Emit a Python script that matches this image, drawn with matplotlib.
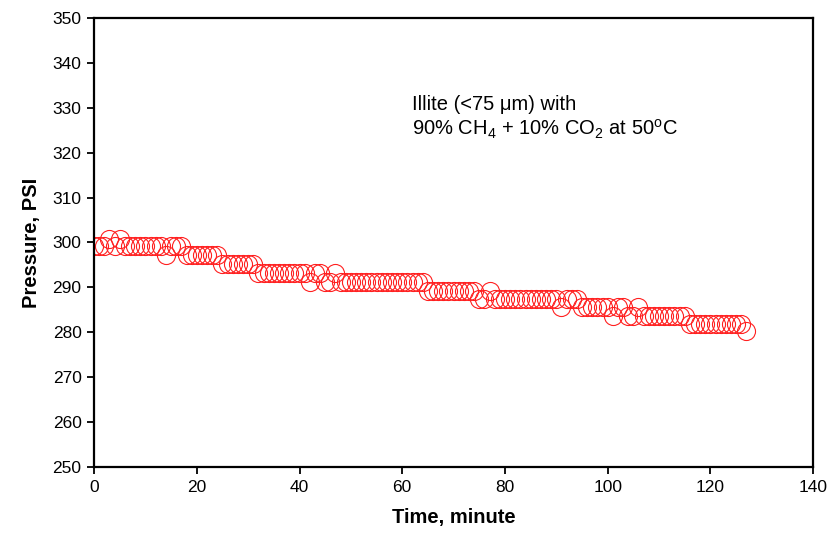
import matplotlib
matplotlib.use('Agg')
import matplotlib.pyplot as plt

plt.rcParams['font.family'] = ['Liberation Sans', 'DejaVu Sans']
plt.rcParams['mathtext.fontset'] = 'custom'
plt.rcParams['mathtext.rm'] = 'Liberation Sans'
plt.rcParams['mathtext.it'] = 'Liberation Sans'

# Time (minute), one reading per minute
waktu = [0, 1, 2, 3, 4, 5, 6, 7, 8, 9, 10, 11, 12, 13, 14, 15, 16, 17, 18, 19,
         20, 21, 22, 23, 24, 25, 26, 27, 28, 29, 30, 31, 32, 33, 34, 35, 36, 37, 38, 39,
         40, 41, 42, 43, 44, 45, 46, 47, 48, 49, 50, 51, 52, 53, 54, 55, 56, 57, 58, 59,
         60, 61, 62, 63, 64, 65, 66, 67, 68, 69, 70, 71, 72, 73, 74, 75, 76, 77, 78, 79,
         80, 81, 82, 83, 84, 85, 86, 87, 88, 89, 90, 91, 92, 93, 94, 95, 96, 97, 98, 99,
         100, 101, 102, 103, 104, 105, 106, 107, 108, 109, 110, 111, 112, 113, 114, 115, 116, 117, 118, 119,
         120, 121, 122, 123, 124, 125, 126, 127]

# Pressure (PSI)
tekanan = [299.2, 299.2, 299.2, 300.8, 299.2, 300.8, 299.2, 299.2, 299.2, 299.2,
           299.2, 299.2, 299.2, 299.2, 297.2, 299.2, 299.2, 299.2, 297.2, 297.2,
           297.2, 297.2, 297.2, 297.2, 297.2, 295.3, 295.3, 295.3, 295.3, 295.3,
           295.3, 295.3, 293.2, 293.2, 293.2, 293.2, 293.2, 293.2, 293.2, 293.2,
           293.2, 293.2, 291.3, 293.2, 293.2, 291.3, 291.3, 293.2, 291.3, 291.3,
           291.3, 291.3, 291.3, 291.3, 291.3, 291.3, 291.3, 291.3, 291.3, 291.3,
           291.3, 291.3, 291.3, 291.3, 291.3, 289.3, 289.3, 289.3, 289.3, 289.3,
           289.3, 289.3, 289.3, 289.3, 289.3, 287.4, 287.4, 289.3, 287.4, 287.4,
           287.4, 287.4, 287.4, 287.4, 287.4, 287.4, 287.4, 287.4, 287.4, 287.4,
           287.4, 285.6, 287.4, 287.4, 287.4, 285.6, 285.6, 285.6, 285.6, 285.6,
           285.6, 283.7, 285.6, 285.6, 283.7, 283.7, 285.6, 283.7, 283.7, 283.7,
           283.7, 283.7, 283.7, 283.7, 283.7, 283.7, 281.8, 281.8, 281.8, 281.8,
           281.8, 281.8, 281.8, 281.8, 281.8, 281.8, 281.8, 280.2]

fig = plt.figure(figsize=(8.4, 5.4), dpi=100)
ax = fig.add_axes([0.112, 0.135, 0.856, 0.832])

ax.plot(waktu, tekanan, linestyle='none', marker='o', markersize=13,
        markerfacecolor='none', markeredgecolor='#ff2020', markeredgewidth=0.8)

ax.set_xlim(0, 140)
ax.set_ylim(250, 350)
ax.set_xticks(range(0, 141, 20))
ax.set_yticks(range(250, 351, 10))
ax.tick_params(axis='both', labelsize=12.5, direction='out', length=5, width=1.3,
               top=False, right=False, pad=4)

for s in ax.spines.values():
    s.set_linewidth(1.6)

ax.set_xlabel('Time, minute', fontsize=14.5, fontweight='bold', labelpad=10)
ax.set_ylabel('Pressure, PSI', fontsize=14.5, fontweight='bold', labelpad=8)

ax.text(61.9, 330.8, 'Illite (<75 μm) with', fontsize=14.5, va='center')
ax.text(61.9, 325.1, '90% CH$_4$ + 10% CO$_2$ at 50$^o$C', fontsize=14.5, va='center')

fig.savefig('out.png', dpi=100)
